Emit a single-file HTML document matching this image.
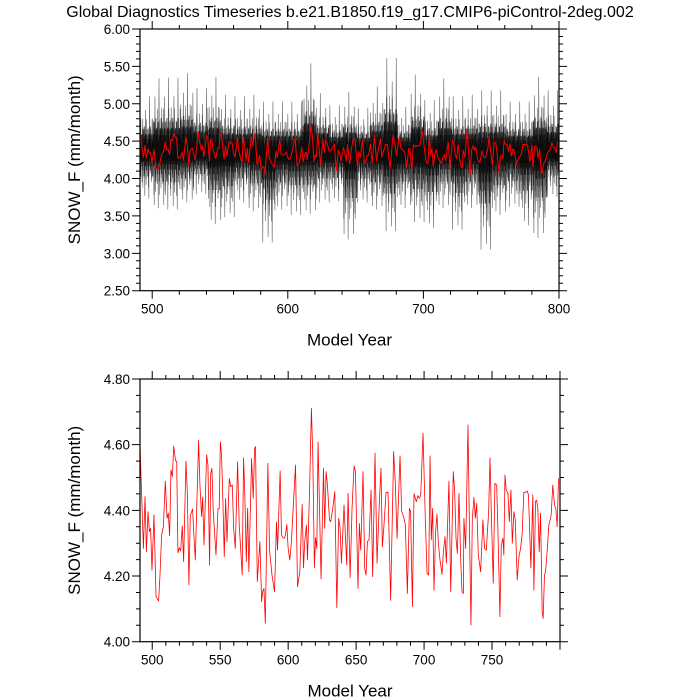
<!DOCTYPE html>
<html><head><meta charset="utf-8"><style>
body{margin:0;background:#fff}
svg{display:block;font-family:"Liberation Sans",sans-serif}
</style></head><body>
<svg id="c" width="700" height="700" viewBox="0 0 700 700">
<text x="350" y="17" font-size="16" text-anchor="middle">Global Diagnostics Timeseries b.e21.B1850.f19_g17.CMIP6-piControl-2deg.002</text>
</svg>
<script>
// annual mean series (years, values)
const annYears=[491.0,493.5,494.7,495.7,496.9,497.9,498.8,499.8,501.3,502.8,504.7,505.7,506.9,508.2,509.6,510.9,511.8,512.8,513.8,514.8,515.8,517.2,518.0,518.9,519.9,520.9,522.1,523.1,524.8,525.8,527.0,528.0,529.7,530.5,531.7,534.1,535.1,536.3,537.1,538.1,540.0,541.0,542.2,543.0,543.9,544.9,546.9,548.4,549.3,550.1,551.0,552.0,553.0,554.0,555.0,556.7,557.7,558.9,559.9,561.1,562.8,564.0,566.2,567.2,568.2,569.2,570.2,571.1,573.1,574.3,575.3,576.0,577.3,579.2,580.5,581.2,582.2,583.2,585.1,586.3,588.1,590.0,591.4,592.2,594.1,595.1,596.1,597.1,598.0,599.0,600.0,601.2,602.4,603.7,605.4,606.9,608.6,610.3,611.3,612.2,613.5,614.2,615.7,617.1,618.1,619.3,620.1,621.1,622.0,624.2,626.0,626.9,627.9,628.9,630.4,631.3,632.8,634.3,635.8,637.2,638.2,639.2,641.1,643.1,644.1,645.6,647.0,648.5,649.5,651.4,652.4,653.4,655.1,656.3,657.3,658.3,659.5,661.0,662.2,663.9,665.4,666.9,668.3,669.3,670.5,672.0,673.5,675.4,677.6,678.9,680.1,682.3,683.5,685.2,686.2,687.7,689.2,690.1,691.4,692.6,694.3,695.5,696.5,697.5,698.0,699.2,700.9,702.2,703.4,704.4,705.3,706.3,707.3,708.5,709.5,710.5,711.7,713.2,714.2,715.4,716.4,718.3,719.6,721.5,722.5,723.5,724.5,725.7,726.9,727.9,728.9,729.3,730.6,732.3,733.3,734.5,735.5,736.7,737.7,738.7,739.9,741.6,743.3,744.5,745.8,747.5,748.5,749.7,750.9,752.1,753.4,754.3,755.8,756.8,758.0,758.7,759.5,760.4,761.7,762.7,763.9,764.9,766.1,767.1,768.5,769.8,771.0,772.2,773.4,774.7,775.9,776.8,778.6,780.0,780.8,782.0,782.8,783.7,784.7,785.7,786.9,787.6,788.6,789.4,790.6,791.8,793.5,794.7,796.0,796.9,797.9,798.9];
const annValues=[4.601,4.284,4.442,4.274,4.396,4.335,4.345,4.218,4.386,4.137,4.124,4.203,4.325,4.350,4.489,4.376,4.391,4.323,4.523,4.503,4.596,4.550,4.550,4.271,4.286,4.276,4.353,4.244,4.550,4.457,4.173,4.384,4.404,4.335,4.249,4.613,4.477,4.381,4.440,4.294,4.569,4.538,4.233,4.511,4.528,4.396,4.264,4.406,4.406,4.609,4.569,4.426,4.259,4.436,4.305,4.497,4.472,4.477,4.345,4.284,4.548,4.355,4.203,4.560,4.437,4.244,4.406,4.213,4.558,4.437,4.589,4.594,4.183,4.305,4.122,4.152,4.162,4.056,4.543,4.279,4.203,4.152,4.365,4.279,4.520,4.325,4.317,4.315,4.325,4.357,4.284,4.249,4.305,4.406,4.538,4.167,4.213,4.418,4.225,4.305,4.355,4.249,4.452,4.711,4.569,4.225,4.317,4.284,4.609,4.191,4.528,4.345,4.518,4.477,4.371,4.365,4.406,4.457,4.104,4.376,4.345,4.239,4.416,4.234,4.452,4.195,4.406,4.535,4.518,4.162,4.360,4.279,4.518,4.223,4.203,4.305,4.310,4.462,4.198,4.574,4.239,4.406,4.528,4.289,4.355,4.455,4.455,4.126,4.579,4.477,4.315,4.566,4.398,4.376,4.357,4.147,4.406,4.396,4.107,4.451,4.426,4.445,4.437,4.445,4.497,4.635,4.376,4.208,4.203,4.566,4.310,4.406,4.157,4.335,4.388,4.300,4.249,4.205,4.274,4.320,4.239,4.489,4.152,4.518,4.457,4.315,4.269,4.452,4.254,4.152,4.147,4.376,4.284,4.660,4.365,4.051,4.376,4.439,4.376,4.421,4.264,4.213,4.371,4.284,4.279,4.396,4.560,4.355,4.178,4.482,4.477,4.345,4.076,4.294,4.315,4.264,4.508,4.462,4.452,4.365,4.462,4.300,4.396,4.371,4.188,4.259,4.284,4.330,4.455,4.455,4.459,4.447,4.225,4.447,4.157,4.428,4.431,4.404,4.274,4.391,4.091,4.071,4.203,4.213,4.279,4.355,4.386,4.477,4.416,4.406,4.350,4.497];
// monthly envelope per 10-year bin (upper panel)
const binStarts=[491,501,511,521,531,541,551,561,571,581,591,601,611,621,631,641,651,661,671,681,691,701,711,721,731,741,751,761,771,781,791];
const monthlyMax=[5.10,5.34,5.35,5.41,5.21,5.36,5.12,5.10,5.12,5.03,5.03,5.03,5.54,5.14,4.98,5.16,4.94,5.23,5.61,4.96,5.39,5.05,5.34,5.10,5.12,5.18,5.18,5.03,5.03,5.36,5.18];
const monthlyMin=[3.62,3.47,3.45,3.56,3.69,3.22,3.33,3.56,3.42,2.93,3.45,3.36,3.38,3.56,3.58,2.98,3.56,3.45,3.11,3.47,3.25,3.16,3.47,3.13,3.47,2.82,3.36,3.49,3.20,3.00,3.65];
const topYTicks=["2.50","3.00","3.50","4.00","4.50","5.00","5.50","6.00"];
const botYTicks=["4.00","4.20","4.40","4.60","4.80"];
const topXTicks=[500,600,700,800];
const botXTicks=[500,550,600,650,700,750];
// drawing pattern (style only): relative spike reach within a bin
const spikeReach=[1,0.45,0.7,0.3,0.85,0.5,0.6,0.35,0.9,0.4,0.55,0.25,0.75,0.45,0.65,0.3,0.8,0.5,0.4,0.6,0.7];

const NS="http://www.w3.org/2000/svg";
const svg=document.getElementById('c');
function mk(t,a,p){const e=document.createElementNS(NS,t);for(const k in a)e.setAttribute(k,a[k]);(p||svg).appendChild(e);return e;}

function panel(P){
  const g=mk('g',{});
  
  
  const sx=v=>P.x0+(v-P.xmin)/(P.xmax-P.xmin)*(P.x1-P.x0);
  const sy=v=>P.y1-(v-P.ymin)/(P.ymax-P.ymin)*(P.y1-P.y0);
  P.sx=sx;P.sy=sy;P.g=g;
  return P;
}
function frame(P){
  const g=P.g,sx=P.sx,sy=P.sy;
  const r=mk('rect',{x:P.x0,y:P.y0,width:P.x1-P.x0,height:P.y1-P.y0,fill:'none',stroke:'#000','stroke-width':1.2},g);
  
  
  let d='';
  for(let v=P.xmin;v<=P.xmax+1e-6;v+=1){if(v%P.xminor)continue;const X=sx(v);const maj=v%P.xmajor===0;const L=maj?8:4;d+=`M${X},${P.y1}v${L}M${X},${P.y0}v${-L}`;}
  for(let v=P.ymin;v<=P.ymax+1e-6;v+=P.yminor){const Y=sy(v);const maj=Math.abs(v/P.ymajor-Math.round(v/P.ymajor))<1e-4;const L=maj?8:4;d+=`M${P.x0},${Y}h${-L}M${P.x1},${Y}h${L}`;}
  const t=mk('path',{d:d,stroke:'#000','stroke-width':1,fill:'none'},g);
  
  
  P.yticks.forEach(s=>{const e=mk('text',{x:P.x0-10,y:sy(parseFloat(s))+5,'font-size':13.5,'text-anchor':'end'},g);e.textContent=s;
    
    });
  P.xticks.forEach(v=>{const e=mk('text',{x:sx(v),y:P.y1+23,'font-size':13.5,'text-anchor':'middle'},g);e.textContent=v;
    
    });
  const xt=mk('text',{x:(P.x0+P.x1)/2,y:P.y1+55,'font-size':17,'text-anchor':'middle'},g);xt.textContent='Model Year';
  
  
  const cy=(P.y0+P.y1)/2;
  const yt=mk('text',{x:80,y:cy,'font-size':17,'text-anchor':'middle',transform:`rotate(-90 80 ${cy})`},g);yt.textContent='SNOW_F (mm/month)';
  
  
}
function redLine(P,w){
  let d='';annYears.forEach((y,i)=>{d+=(i?'L':'M')+P.sx(y).toFixed(2)+','+P.sy(annValues[i]).toFixed(2);});
  const l=mk('path',{d:d,stroke:'#ff0000','stroke-width':w,fill:'none','stroke-linejoin':'round'},P.g);
  
  
}

// top panel
const T=panel({name:'monthly-panel',x0:140,x1:559,y0:29,y1:290.7,xmin:491,xmax:800,ymin:2.5,ymax:6,xminor:20,xmajor:100,yminor:0.1,ymajor:0.5,yticks:topYTicks,xticks:topXTicks});
(function(){
  const clip=mk('clipPath',{id:'clipT'});mk('rect',{x:T.x0,y:T.y0,width:T.x1-T.x0,height:T.y1-T.y0},clip);
  const mid=4.36,L=spikeReach.length;
  function zig(step,scale,shift,op,w,name){
    let d='',k=0;
    binStarts.forEach((b,i)=>{for(let y=b;y<b+10&&y<=800.01;y+=step){
      const h=Math.floor(k/2);
      const v=(k%2)?mid-(mid-monthlyMin[i])*spikeReach[(h*3+shift+7)%L]*scale
                   :mid+(monthlyMax[i]-mid)*spikeReach[(h*3+shift)%L]*scale;
      d+=(k?'L':'M')+T.sx(y).toFixed(2)+','+T.sy(v).toFixed(2);k++;}});
    const p=mk('path',{d:d,stroke:'#000','stroke-opacity':op,'stroke-width':w,fill:'none','clip-path':'url(#clipT)'},T.g);
    
    
  }
  zig(0.5,1,0,0.55,0.7,'monthly-spikes');
  zig(0.3,0.65,5,0.6,0.6,'monthly-series');
  zig(0.2,0.45,11,0.75,0.6,'monthly-core');
})();
redLine(T,1);
frame(T);

// bottom panel
const B=panel({name:'annual-panel',x0:140,x1:560,y0:379,y1:641.7,xmin:491,xmax:800,ymin:4.0,ymax:4.8,xminor:10,xmajor:50,yminor:0.05,ymajor:0.2,yticks:botYTicks,xticks:botXTicks});
redLine(B,0.8);
frame(B);
</script>
</body></html>
